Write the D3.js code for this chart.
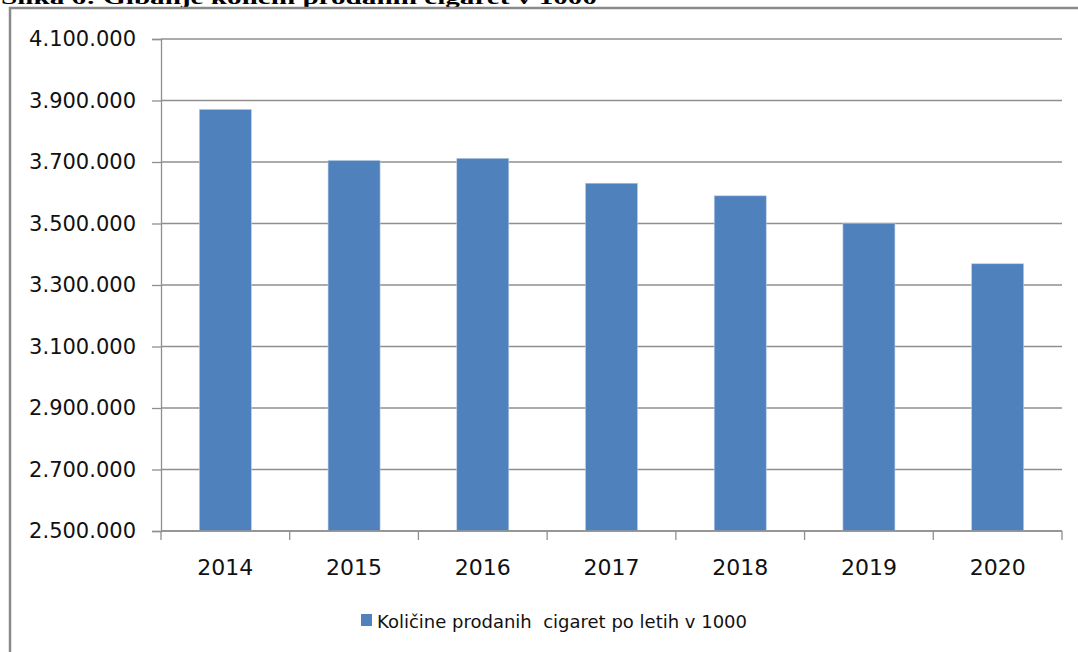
<!DOCTYPE html>
<html>
<head>
<meta charset="utf-8">
<script src="https://cdn.jsdelivr.net/npm/d3@7"></script>
<style>
  html, body { margin: 0; padding: 0; background: #fff; }
  svg { display: block; }
</style>
</head>
<body>
<svg id="chart" width="1078" height="652"></svg>
<script>
const titleText = "Slika 6: Gibanje količin prodanih cigaret v 1000";
const years = ["2014", "2015", "2016", "2017", "2018", "2019", "2020"];
const values = [3871000, 3705000, 3712000, 3631000, 3590000, 3501000, 3369000];
const yTicks = [2500000, 2700000, 2900000, 3100000, 3300000, 3500000, 3700000, 3900000, 4100000];
const seriesName = "Količine prodanih  cigaret po letih v 1000";

(function () {
const svg = d3.select("#chart");
const W = 1078, H = 652;
const mLeft = 161, mRight = 1062, mTop = 39, mBottom = 531;
const fontSans = "'DejaVu Sans', sans-serif";
const gridColor = "#8f8f8f";
const barColor = "#4f81bd";

const loc = d3.formatLocale({ decimal: ",", thousands: ".", grouping: [3], currency: ["", ""] });
const fmt = loc.format(",d");

// Title (partially cut at top, as in the source)
svg.append("text")
  .attr("x", 1).attr("y", 3.5)
  .attr("font-family", "'Liberation Serif', 'Times New Roman', serif")
  .attr("font-weight", "bold")
  .attr("font-size", 19)
  .attr("textLength", 596)
  .attr("lengthAdjust", "spacingAndGlyphs")
  .attr("fill", "#000")
  .text(titleText);

// Frame
svg.append("path")
  .attr("d", `M10,${H + 5} L10,8 L${W + 5},8`)
  .attr("fill", "none")
  .attr("stroke", "#8a8a8a")
  .attr("stroke-width", 2.5);

const y = d3.scaleLinear().domain([2500000, 4100000]).range([mBottom, mTop]);
const x = d3.scaleBand().domain(years).range([mLeft, mRight]).paddingInner(0.596).paddingOuter(0.298);

// Gridlines
svg.append("g").selectAll("line").data(yTicks).join("line")
  .attr("x1", mLeft).attr("x2", mRight)
  .attr("y1", d => y(d)).attr("y2", d => y(d))
  .attr("stroke", gridColor).attr("stroke-width", 1.3);

// Y axis
const yAxis = svg.append("g")
  .attr("transform", `translate(${mLeft},0)`)
  .call(d3.axisLeft(y).tickValues(yTicks).tickFormat(fmt).tickSize(9).tickPadding(16));
yAxis.select(".domain").attr("stroke", gridColor).attr("stroke-width", 1.3);
yAxis.selectAll(".tick line").attr("stroke", gridColor).attr("stroke-width", 1.3);
yAxis.selectAll(".tick text")
  .attr("font-family", fontSans).attr("font-size", 21).attr("fill", "#111");

// Bars
svg.append("g").selectAll("rect").data(years).join("rect")
  .attr("x", d => x(d))
  .attr("width", x.bandwidth())
  .attr("y", (d, i) => y(values[i]))
  .attr("height", (d, i) => mBottom - y(values[i]))
  .attr("fill", barColor)
  .attr("stroke", "#b9cde5").attr("stroke-width", 0.6);

// X axis
const step = x.step();
const xBounds = d3.range(years.length + 1).map(i => mLeft + i * step);
svg.append("line")
  .attr("x1", mLeft).attr("x2", mRight).attr("y1", mBottom).attr("y2", mBottom)
  .attr("stroke", gridColor).attr("stroke-width", 1.3);
svg.append("g").selectAll("line").data(xBounds).join("line")
  .attr("x1", d => d).attr("x2", d => d)
  .attr("y1", mBottom).attr("y2", mBottom + 9)
  .attr("stroke", gridColor).attr("stroke-width", 1.3);
svg.append("g").selectAll("text").data(years).join("text")
  .attr("x", d => x(d) + x.bandwidth() / 2)
  .attr("y", 575)
  .attr("text-anchor", "middle")
  .attr("font-family", fontSans).attr("font-size", 22).attr("fill", "#111")
  .text(d => d);

// Legend
svg.append("rect")
  .attr("x", 361).attr("y", 614).attr("width", 11).attr("height", 12)
  .attr("fill", barColor);
svg.append("text")
  .attr("x", 377).attr("y", 628)
  .attr("font-family", fontSans).attr("font-size", 18).attr("fill", "#111")
  .style("white-space", "pre")
  .attr("xml:space", "preserve")
  .text(seriesName);
})();
</script>
</body>
</html>
